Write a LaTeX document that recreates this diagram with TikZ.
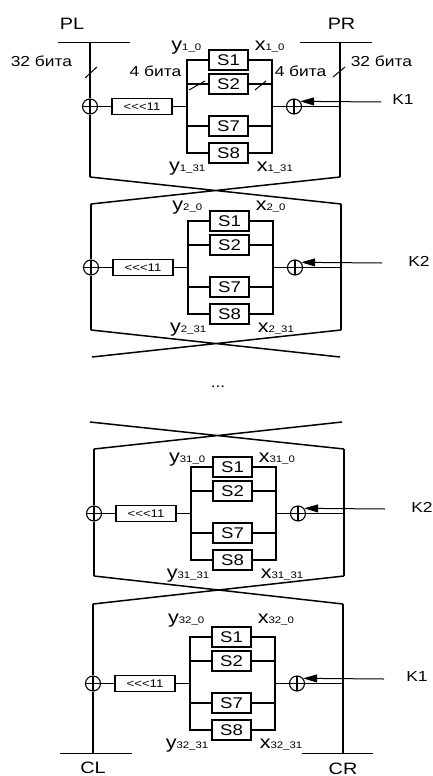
\documentclass[tikz,border=0pt]{standalone}
\usepackage{fontspec}
\setmainfont[FakeStretch=1.2]{Liberation Sans}
\usetikzlibrary{calc,arrows.meta}

\newcommand{\sub}[1]{{\fontsize{9.5}{9.5}\selectfont #1}}

\begin{document}
\begin{tikzpicture}[x=1pt, y=-1pt, line width=1.5pt,
    sbox/.style={draw, minimum width=39pt, minimum height=20pt, inner sep=0pt, font=\fontsize{15.5}{15.5}\selectfont},
    rotbox/.style={draw, minimum width=60pt, minimum height=16pt, inner sep=0pt, font=\fontsize{11}{11}\selectfont},
    xor/.style={draw, circle, minimum size=15pt, inner sep=0pt, line width=1.1pt,
        path picture={\draw[line width=1.1pt] (path picture bounding box.west) -- (path picture bounding box.east)
            (path picture bounding box.north) -- (path picture bounding box.south);}},
    idx/.style={inner sep=0pt, font=\fontsize{18}{18}\selectfont},
    bits/.style={inner sep=0pt, font=\fontsize{14.5}{14.5}\selectfont},
    half/.style={inner sep=0pt, font=\fontsize{16.5}{16.5}\selectfont},
    keyname/.style={inner sep=0pt, font=\fontsize{14.5}{14.5}\selectfont},
    keyline/.style={line width=1pt, -{Triangle[length=14pt,width=8pt]}}]
    \useasboundingbox (0,0) rectangle (432,776);

    % Rounds
    \foreach \n/\sx/\sy/\ty/\kn/\kx in {1/0/0/51/1/403, 2/1/161/49/2/418, 31/4/407/55/2/418, 32/3/577/46/1/414}{
    \begin{scope}[shift={(\sx,\sy)}]
        % S-boxes
        \foreach \sb/\yy in {1/60, 2/84, 7/126, 8/153}
            \node[sbox] (s\sb-\n) at (228.5,\yy) {S\sb};
        \coordinate (lb-\n) at (187,106.5);
        \coordinate (rb-\n) at (272,106.5);
        \coordinate (rv-\n) at (340,106.5);
        \coordinate (ks-\n) at (381,102);

        % Buses
        \draw (s1-\n.west) -| (lb-\n) |- (s8-\n.west);
        \draw (s1-\n.east) -| (rb-\n) |- (s8-\n.east);
        \foreach \sb in {2,7}
            \draw (s\sb-\n.west) -- (s\sb-\n.west -| lb-\n) (s\sb-\n.east) -- (s\sb-\n.east -| rb-\n);

        % Shift and XOR
        \node[rotbox] (rot-\n) at (142,106.5) {<\kern0pt<\kern0pt<11};
        \node[xor] (xl-\n) at (90,106.5) {};
        \node[xor] (xr-\n) at (294,106.5) {};
        \draw (xl-\n) -- (rot-\n) -- (lb-\n);
        \draw (rb-\n) -- (xr-\n) -- (rv-\n);
        \draw[keyline] (ks-\n) -- (xr-\n.40);
        \node[keyname] (k-\n) at (\kx,100) {K\kn};

        % Indices
        \node[idx, anchor=base east] (yt-\n) at (202,\ty) {y\sub{\n\_0}};
        \node[idx, anchor=base west] (xt-\n) at (254,\ty) {x\sub{\n\_0}};
        \node[idx, anchor=base east] (yb-\n) at (206,171.5) {y\sub{\n\_31}};
        \node[idx, anchor=base west] (xb-\n) at (256,171.5) {x\sub{\n\_31}};
    \end{scope}
    }

    % Halves
    \foreach \n/\ya/\yb in {1/43/177, 2/204/330, 31/449/576, 32/604/753}{
        \coordinate (tl\n) at (xl-\n |- 0,\ya);
        \coordinate (bl\n) at (xl-\n |- 0,\yb);
        \coordinate (tr\n) at (rv-\n |- 0,\ya);
        \coordinate (br\n) at (rv-\n |- 0,\yb);
        \draw (tl\n) -- (xl-\n) -- (bl\n);
        \draw (tr\n) -- (br\n);
    }

    % Swaps
    \coordinate (oa) at (340,357);
    \coordinate (ob) at (92,357);
    \coordinate (oc) at (90,422);
    \coordinate (od) at (342,422);
    \draw (bl1) -- (tr2) (br1) -- (tl2);
    \draw (bl2) -- (oa) (br2) -- (ob);
    \draw (oc) -- (tr31) (od) -- (tl31);
    \draw (bl31) -- (tr32) (br31) -- (tl32);
    \node[keyname] (dots) at (218,387) {...};

    % Input and output
    \coordinate (pla) at (58,43);
    \coordinate (plb) at (130,43);
    \coordinate (pra) at (300,43);
    \coordinate (prb) at (372,43);
    \coordinate (cla) at (60,753);
    \coordinate (clb) at (132,753);
    \coordinate (cra) at (302,753);
    \coordinate (crb) at (373,753);
    \draw[line width=1pt] (pla) -- (plb) (pra) -- (prb);
    \draw[line width=1pt] (cla) -- (clb) (cra) -- (crb);
    \node[half, anchor=base] (pl) at (72,29.5) {PL};
    \node[half, anchor=base] (pr) at (341.5,29.5) {PR};
    \node[half, anchor=base] (cl) at (93,773) {CL};
    \node[half, anchor=base] (cr) at (343,774) {CR};

    % Widths
    \node[bits, anchor=base west] (w32l) at (10,66.5) {32 бита};
    \node[bits, anchor=base west] (w32r) at (350,66.5) {32 бита};
    \node[bits, anchor=base east] (w4l) at (182,76) {4 бита};
    \node[bits, anchor=base west] (w4r) at (274,76) {4 бита};
    \draw[line width=1pt] (85,78) -- (97,67);
    \draw[line width=1pt] (333,77) -- (345,67);
    \draw[line width=1pt] (189,90) -- (205,81);
    \draw[line width=1pt] (255,90) -- (266,81);
\end{tikzpicture}
\end{document}
